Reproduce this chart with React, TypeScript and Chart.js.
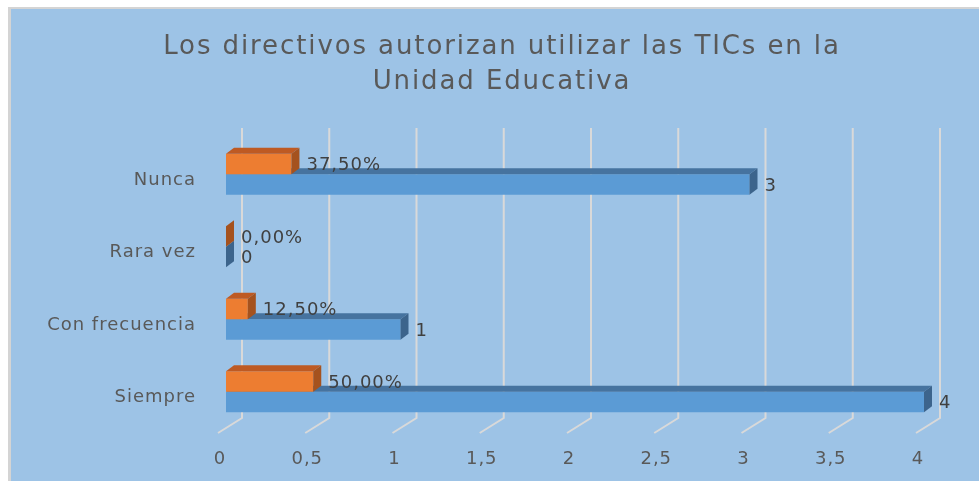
import React, { useEffect, useRef } from 'react';
import { Chart, registerables } from 'chart.js';

Chart.register(...registerables);

// ---------- data ----------
const categories = ['Nunca', 'Rara vez', 'Con frecuencia', 'Siempre'];
const frecuencia = [3, 0, 1, 4];
const porcentaje = [0.375, 0, 0.125, 0.5];
const titleLines = ['Los directivos autorizan utilizar las TICs en la', 'Unidad Educativa'];
const xMin = 0;
const xMax = 4;
const xStep = 0.5;

// ---------- styles ----------
const FONT = '"DejaVu Sans", sans-serif';
const TEXT = '#595959';
const LABEL_TEXT = '#404040';
const BG = '#9DC3E6';
const GRID = '#D9D9D9';
const FRONT = ['#ED7D31', '#5B9BD5'];
const TOP = ['#BE5A23', '#46739F'];
const SIDE = ['#A5521E', '#3C648C'];
const DX = 8;
const DY = 6;

const comma = (v: number, d: number) => v.toFixed(d).replace('.', ',');

const spacingPlugin = {
  id: 'spacing',
  beforeUpdate(chart: any) {
    chart.ctx.letterSpacing = '1px';
  },
  beforeDraw(chart: any) {
    chart.ctx.letterSpacing = '1px';
  },
};

const titlePlugin = {
  id: 'customTitle',
  afterDraw(chart: any) {
    const ctx = chart.ctx;
    ctx.save();
    ctx.font = `26px ${FONT}`;
    ctx.letterSpacing = '1.9px';
    ctx.fillStyle = TEXT;
    ctx.textAlign = 'center';
    ctx.textBaseline = 'alphabetic';
    const cx = 502;
    titleLines.forEach((line, i) => {
      ctx.fillText(line, cx, 54 + i * 35);
    });
    ctx.restore();
  },
};

const gridPlugin = {
  id: 'backGrid',
  beforeDatasetsDraw(chart: any) {
    const { ctx, chartArea } = chart;
    const xs = chart.scales.x;
    ctx.save();
    ctx.strokeStyle = GRID;
    ctx.lineWidth = 2;
    xs.ticks.forEach((t: any) => {
      const px = xs.getPixelForValue(t.value);
      ctx.beginPath();
      ctx.moveTo(px + 16, chartArea.top - 10);
      ctx.lineTo(px + 16, chartArea.bottom - 10);
      ctx.lineTo(px - 8, chartArea.bottom + 5);
      ctx.stroke();
    });
    ctx.restore();
  },
};

const poly = (ctx: CanvasRenderingContext2D, pts: number[][]) => {
  ctx.beginPath();
  ctx.moveTo(pts[0][0], pts[0][1]);
  for (let i = 1; i < pts.length; i++) ctx.lineTo(pts[i][0], pts[i][1]);
  ctx.closePath();
  ctx.fill();
};

const bar3DPlugin = {
  id: 'bar3D',
  afterDatasetDraw(chart: any, args: any) {
    const ctx = chart.ctx;
    const idx = args.index;
    ctx.save();
    args.meta.data.forEach((el: any) => {
      const { x, y, base, height } = el.getProps(['x', 'y', 'base', 'height'], true);
      const top = y - height / 2;
      const bot = y + height / 2;
      if (x - base > 0.5) {
        ctx.fillStyle = TOP[idx];
        poly(ctx, [[base, top], [x, top], [x + DX, top - DY], [base + DX, top - DY]]);
      }
      ctx.fillStyle = SIDE[idx];
      poly(ctx, [[x, top], [x + DX, top - DY], [x + DX, bot - DY], [x, bot]]);
    });
    ctx.restore();
  },
};

const labelPlugin = {
  id: 'dataLabels',
  afterDatasetsDraw(chart: any) {
    const ctx = chart.ctx;
    ctx.save();
    ctx.font = `18px ${FONT}`;
    ctx.letterSpacing = '1px';
    ctx.fillStyle = LABEL_TEXT;
    ctx.textAlign = 'left';
    ctx.textBaseline = 'middle';
    chart.data.datasets.forEach((ds: any, di: number) => {
      const meta = chart.getDatasetMeta(di);
      meta.data.forEach((el: any, i: number) => {
        const v = ds.data[i];
        const txt = di === 0 ? `${comma(v * 100, 2)}%` : String(v);
        ctx.fillText(txt, el.x + 15, el.y + 1.5);
      });
    });
    ctx.restore();
  },
};

export default function App() {
  const ref = useRef<HTMLCanvasElement | null>(null);

  useEffect(() => {
    if (!ref.current) return;
    const chart = new Chart(ref.current, {
      type: 'bar',
      data: {
        labels: categories,
        datasets: [
          {
            label: 'Porcentaje',
            data: porcentaje,
            backgroundColor: FRONT[0],
            borderWidth: 0,
            categoryPercentage: 0.566,
            barPercentage: 1,
          },
          {
            label: 'Frecuencia',
            data: frecuencia,
            backgroundColor: FRONT[1],
            borderWidth: 0,
            categoryPercentage: 0.566,
            barPercentage: 1,
          },
        ],
      },
      options: {
        indexAxis: 'y',
        animation: false,
        responsive: false,
        maintainAspectRatio: false,
        layout: { padding: { left: 0, right: 55, top: 138, bottom: 0 } },
        plugins: {
          legend: { display: false },
          title: { display: false },
          tooltip: { enabled: false },
        },
        scales: {
          x: {
            type: 'linear',
            min: xMin,
            max: xMax,
            grid: { display: false, drawTicks: false },
            border: { display: false },
            ticks: {
              stepSize: xStep,
              color: TEXT,
              font: { family: FONT, size: 18 },
              padding: 21,
              labelOffset: -6,
              callback: (v: any) => (Number.isInteger(v) ? String(v) : comma(Number(v), 1)),
            },
            afterFit: (s: any) => {
              s.height = 53;
            },
          },
          y: {
            type: 'category',
            offset: true,
            grid: { display: false, drawTicks: false },
            border: { display: false },
            ticks: {
              color: TEXT,
              font: { family: FONT, size: 18 },
              padding: 30,
              labelOffset: 6,
            },
            afterFit: (s: any) => {
              s.width = 226;
            },
          },
        },
      },
      plugins: [spacingPlugin, gridPlugin, bar3DPlugin, labelPlugin, titlePlugin],
    } as any);
    return () => chart.destroy();
  }, []);

  return (
    <div style={{ position: 'fixed', left: 0, top: 0, width: 979, height: 481, background: '#ffffff', overflow: 'hidden' }}>
      <div
        style={{
          position: 'absolute',
          left: 8,
          top: 7,
          width: 971,
          height: 474,
          boxSizing: 'border-box',
          borderLeft: '3px solid #D4D4D4',
          borderTop: '2px solid #D4D4D4',
          background: BG,
        }}
      />
      <canvas ref={ref} width={979} height={481} style={{ position: 'absolute', left: 0, top: 0, width: 979, height: 481 }} />
    </div>
  );
}
